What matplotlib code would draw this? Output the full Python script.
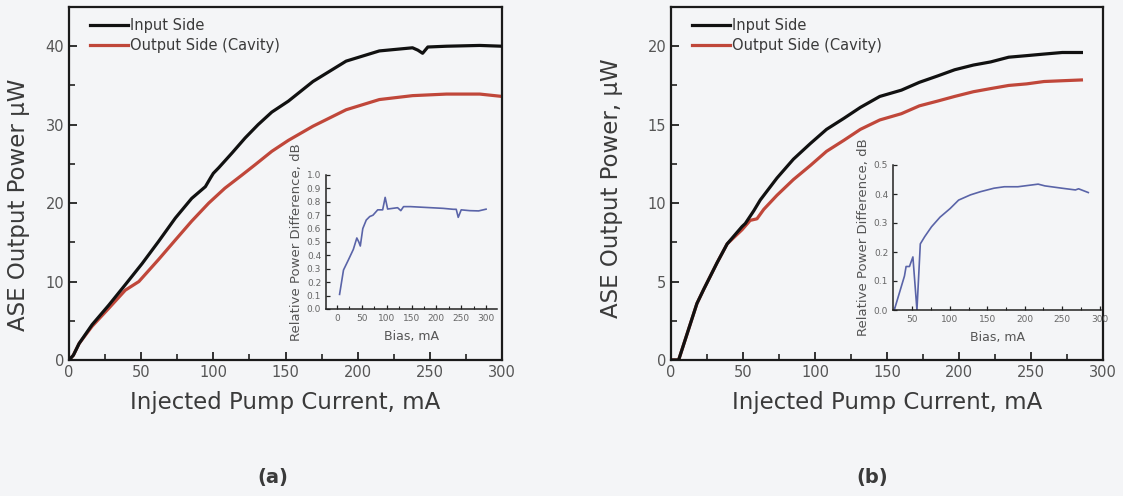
import matplotlib
matplotlib.use("Agg")
import matplotlib.pyplot as plt
from matplotlib.ticker import MultipleLocator

plt.rcParams['font.family'] = ['DejaVu Sans']

# ---------------- data ----------------
# Panel (a) main curves
a_in_x = [0, 3, 7, 16, 27.6, 39, 50.7, 62, 73.7, 85, 94.5, 98, 100, 103.7, 113, 122, 131,
          140.5, 152, 169, 192, 215, 238, 241.7, 245, 248.6, 261.5, 284.6, 300]
a_in_y = [0, 0.6, 2.1, 4.5, 7.0, 9.6, 12.3, 15.1, 18.1, 20.6, 22.1, 23.2, 23.8, 24.5, 26.4,
          28.3, 30.0, 31.6, 33.0, 35.5, 38.1, 39.4, 39.8, 39.5, 39.1, 39.9, 40.0, 40.1, 40.0]
a_out_x = [0, 3, 7, 16, 27.6, 39, 48.4, 62, 73.7, 85, 96.8, 108, 120, 129, 140.5, 152, 169,
           192, 215, 238, 261.5, 284.6, 300]
a_out_y = [0, 0.6, 2.1, 4.3, 6.6, 8.9, 10.0, 12.8, 15.3, 17.7, 20.0, 21.9, 23.6, 24.9, 26.6,
           28.0, 29.8, 31.9, 33.2, 33.7, 33.9, 33.9, 33.6]

# Panel (a) inset: relative power difference
a_bias = [5.3, 13.2, 23, 33, 40, 44, 47, 52, 59, 66, 72.5, 82, 92, 97, 102, 122, 128.5,
          134, 148, 214, 234, 240, 244, 250, 267, 285, 300]
a_diff = [0.109, 0.291, 0.366, 0.445, 0.53, 0.50, 0.47, 0.60, 0.664, 0.69, 0.70, 0.74, 0.74,
          0.833, 0.746, 0.756, 0.734, 0.764, 0.764, 0.751, 0.744, 0.744, 0.684, 0.74, 0.734,
          0.732, 0.745]

# Panel (b) main curves
b_in_x = [0, 5.3, 12, 18, 22.7, 32, 39, 49.3, 51.6, 57.4, 62, 73.6, 85, 96.8, 108, 120, 131.5,
          145, 160, 172.5, 185, 197, 210, 222, 234.5, 247, 259, 271.7, 285]
b_in_y = [0, 0, 1.9, 3.6, 4.5, 6.2, 7.4, 8.5, 8.7, 9.5, 10.2, 11.6, 12.8, 13.8, 14.7, 15.4,
          16.1, 16.8, 17.2, 17.7, 18.1, 18.5, 18.8, 19.0, 19.3, 19.4, 19.5, 19.6, 19.6]
b_out_x = [0, 5.3, 12, 18, 22.7, 32, 39, 49.3, 55, 59.7, 64.4, 73.6, 85, 96.8, 108, 120, 131.5,
           145, 160, 172.5, 185, 197, 210, 222, 234.5, 247, 259, 271.7, 285]
b_out_y = [0, 0, 1.9, 3.6, 4.5, 6.2, 7.4, 8.3, 8.9, 9.0, 9.6, 10.5, 11.5, 12.4, 13.3, 14.0,
           14.7, 15.3, 15.7, 16.2, 16.5, 16.8, 17.1, 17.3, 17.5, 17.6, 17.75, 17.8, 17.85]

# Panel (b) inset
b_bias = [25.7, 39.3, 41.5, 46, 50.6, 56, 60.5, 66.4, 75.5, 86.8, 100.4, 111.7, 127.5, 141,
          159, 172.8, 190.9, 209, 218, 227, 249.7, 267.8, 272, 285]
b_diff = [0.0, 0.117, 0.15, 0.15, 0.183, 0.0, 0.228, 0.253, 0.287, 0.32, 0.35, 0.379, 0.397,
          0.408, 0.42, 0.425, 0.425, 0.431, 0.434, 0.428, 0.42, 0.414, 0.418, 0.405]

labels = ["Input Side", "Output Side (Cavity)"]
ylabels = ["ASE Output Power \u00b5W", "ASE Output Power, \u00b5W"]
xlabel = "Injected Pump Current, mA"
inset_xlabel = "Bias, mA"
inset_ylabel = "Relative Power Difference, dB"
panel_tags = ["(a)", "(b)"]

# ---------------- style ----------------
BG = '#f4f5f7'
TXT = '#3a3a3a'
TICK = '#555555'
BLACK = '#111111'
RED = '#c0473a'
BLUE = '#5a64a8'

W, H = 1123, 496
fig = plt.figure(figsize=(W / 100, H / 100), dpi=100, facecolor=BG)


def fr(x0, y0, x1, y1):
    return [x0 / W, 1 - y1 / H, (x1 - x0) / W, (y1 - y0) / H]


def style_main(ax, ymax, ymaj, ymin, ylabel, ylab_xy):
    ax.set_facecolor(BG)
    ax.set_xlim(0, 300)
    ax.set_ylim(0, ymax)
    ax.xaxis.set_major_locator(MultipleLocator(50))
    ax.xaxis.set_minor_locator(MultipleLocator(25))
    ax.yaxis.set_major_locator(MultipleLocator(ymaj))
    ax.yaxis.set_minor_locator(MultipleLocator(ymin))
    ax.tick_params(which='both', direction='in', top=False, right=False, color='#222222',
                   labelcolor=TICK, labelsize=10.5)
    ax.tick_params(which='major', length=6, width=1.3)
    ax.tick_params(which='minor', length=4, width=1.2)
    for s in ax.spines.values():
        s.set_linewidth(1.6)
        s.set_color('#1a1a1a')
    ax.set_xlabel(xlabel, fontsize=16.5, color=TXT, labelpad=8)
    ax.set_ylabel(ylabel, fontsize=16.5, color=TXT)
    ax.yaxis.set_label_coords(*ylab_xy)


def style_inset(ax, xlim, ylim, ymaj, yfmt, xticks):
    ax.set_facecolor('none')
    ax.set_xlim(*xlim)
    ax.set_ylim(*ylim)
    ax.set_xticks(xticks)
    ax.xaxis.set_minor_locator(MultipleLocator(25))
    ax.yaxis.set_major_locator(MultipleLocator(ymaj))
    ax.yaxis.set_major_formatter(plt.FormatStrFormatter(yfmt))
    ax.spines['top'].set_visible(False)
    ax.spines['right'].set_visible(False)
    for s in ['left', 'bottom']:
        ax.spines[s].set_linewidth(1.1)
        ax.spines[s].set_color('#222222')
    ax.tick_params(which='both', direction='in', color='#222222', labelcolor='#666666',
                   labelsize=6.5)
    ax.tick_params(which='major', length=3, width=0.9)
    ax.tick_params(which='minor', length=2, width=0.8)
    ax.set_xlabel(inset_xlabel, fontsize=9, color='#555555', labelpad=5)
    ax.set_ylabel(inset_ylabel, fontsize=9.5, color='#555555', labelpad=3)


# ---------------- panel (a) ----------------
axa = fig.add_axes(fr(69, 7, 502, 360))
axa.plot(a_in_x, a_in_y, color=BLACK, lw=2.3, label=labels[0], zorder=3)
axa.plot(a_out_x, a_out_y, color=RED, lw=2.3, label=labels[1], zorder=2)
style_main(axa, 45, 10, 5, ylabels[0], (-0.09, 0.44))
leg = axa.legend(loc='upper left', bbox_to_anchor=(0.035, 0.985), frameon=False,
                 fontsize=10.5, handlelength=2.6, handletextpad=0.15, labelspacing=0.35,
                 borderaxespad=0)
for t in leg.get_texts():
    t.set_color(TXT)

insa = fig.add_axes(fr(326, 175, 497, 309))
insa.plot(a_bias, a_diff, color=BLUE, lw=1.2)
style_inset(insa, (-22, 322), (0, 1.0), 0.1, '%.1f', [0, 50, 100, 150, 200, 250, 300])

# ---------------- panel (b) ----------------
axb = fig.add_axes(fr(671, 7, 1103, 360))
axb.plot(b_in_x, b_in_y, color=BLACK, lw=2.3, label=labels[0], zorder=3)
axb.plot(b_out_x, b_out_y, color=RED, lw=2.3, label=labels[1], zorder=2)
style_main(axb, 22.5, 5, 2.5, ylabels[1], (-0.11, 0.487))
leg = axb.legend(loc='upper left', bbox_to_anchor=(0.035, 0.985), frameon=False,
                 fontsize=10.5, handlelength=2.6, handletextpad=0.15, labelspacing=0.35,
                 borderaxespad=0)
for t in leg.get_texts():
    t.set_color(TXT)

insb = fig.add_axes(fr(893, 165, 1101, 310))
insb.plot(b_bias, b_diff, color=BLUE, lw=1.2)
style_inset(insb, (24, 302), (0, 0.5), 0.1, '%.1f', [50, 100, 150, 200, 250, 300])

# panel tags
fig.text(273 / W, 1 - 477 / H, panel_tags[0], ha='center', va='center', fontsize=14,
         fontweight='bold', color=TXT)
fig.text(872 / W, 1 - 477 / H, panel_tags[1], ha='center', va='center', fontsize=14,
         fontweight='bold', color=TXT)

fig.savefig('out.png', dpi=100, facecolor=BG)
